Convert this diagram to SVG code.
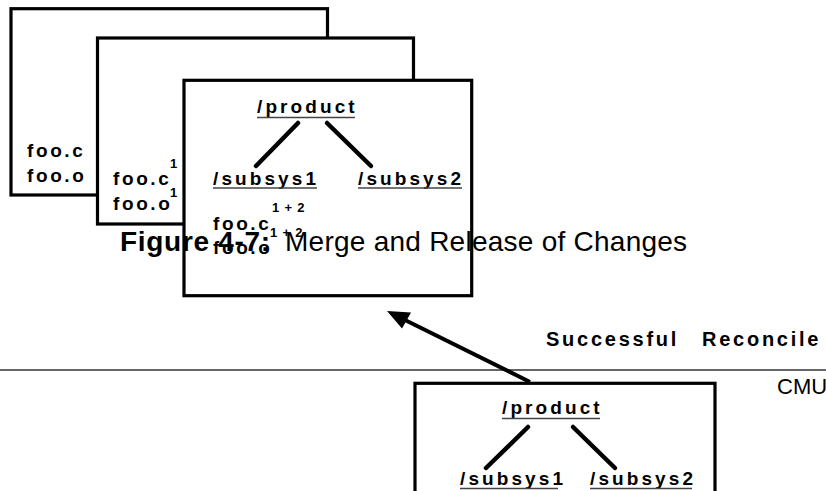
<svg xmlns="http://www.w3.org/2000/svg" width="826" height="491" viewBox="0 0 826 491">
<style>
.box{fill:#fff;stroke:#000;stroke-width:3.2}
.frame{fill:none;stroke:#000;stroke-width:3.2}
.fill{fill:#fff;stroke:none}
.lbl{font-family:"Liberation Sans",Arial,sans-serif;font-weight:bold;font-size:19px;letter-spacing:3.1px;fill:#000}
.foo{font-family:"Liberation Sans",Arial,sans-serif;font-weight:bold;font-size:19px;letter-spacing:2.6px;fill:#000}
.sup{font-family:"Liberation Sans",Arial,sans-serif;font-weight:bold;font-size:13px;fill:#000}
.ul{stroke:#444;stroke-width:1.4}
.tree{stroke:#000;stroke-width:4.5;stroke-linecap:round}
.cap{font-family:"Liberation Sans",Arial,sans-serif;font-weight:bold;font-size:20px;letter-spacing:2.75px;fill:#000}
.title{font-family:"Liberation Sans",Arial,sans-serif;font-size:28px;fill:#000}
</style>
<line x1="0" y1="370" x2="826" y2="370" stroke="#333" stroke-width="1.5"/>
<g id="ws1">
<rect class="box" x="11" y="8.7" width="316.5" height="186.3"/>
<text class="foo" x="27" y="157">foo.c</text>
<text class="foo" x="27" y="182">foo.o</text>
</g>
<g id="ws2">
<rect class="box" x="97.5" y="38" width="316" height="186"/>
<text class="foo" x="113" y="185">foo.c</text>
<text class="foo" x="113" y="210">foo.o</text>
<text class="sup" x="170" y="168">1</text>
<text class="sup" x="170" y="197">1</text>
</g>
<g id="release">
<rect class="fill" x="184" y="80.3" width="287.7" height="215.4"/>
<text class="lbl" x="257" y="113">/product</text>
<line class="ul" x1="257" y1="117.5" x2="355" y2="117.5"/>
<text class="lbl" x="213" y="185">/subsys1</text>
<line class="ul" x1="213" y1="188" x2="317" y2="188"/>
<text class="lbl" x="358" y="185">/subsys2</text>
<line class="ul" x1="358" y1="188" x2="462" y2="188"/>
<text class="foo" x="213" y="230">foo.c</text>
<text class="foo" x="213" y="254">foo.o</text>
<text class="sup" x="272" y="212" letter-spacing="0.8">1 + 2</text>
<text class="sup" x="270" y="237" letter-spacing="0.8">1 + 2</text>
<g id="caption">
<text class="title" x="120" y="251" font-weight="bold" letter-spacing="0.7">Figure 4-7:</text>
<text class="title" x="285" y="251" letter-spacing="0.25">Merge and Release of Changes</text>
</g>
<rect class="frame" x="184" y="80.3" width="287.7" height="215.4"/>
</g>
<g id="workspace">
<rect class="box" x="415" y="383.3" width="300" height="120"/>
<text class="lbl" x="502" y="414">/product</text>
<line class="ul" x1="502" y1="418.5" x2="600" y2="418.5"/>
<text class="lbl" x="460" y="485">/subsys1</text>
<line class="ul" x1="460" y1="488.5" x2="558" y2="488.5"/>
<text class="lbl" x="590" y="485">/subsys2</text>
<line class="ul" x1="590" y1="488.5" x2="692" y2="488.5"/>
</g>
<g id="connectors">
<line class="tree" x1="298" y1="123" x2="256" y2="166"/>
<line class="tree" x1="327" y1="123" x2="371" y2="166"/>
<line class="tree" x1="528" y1="427" x2="486" y2="468"/>
<line class="tree" x1="573" y1="427" x2="615" y2="468"/>
<line x1="530" y1="382" x2="405" y2="320" stroke="#000" stroke-width="4"/>
<polygon points="387,311 411,312.5 402,328.5" fill="#000"/>
</g>
<g id="labels">
<text class="cap" x="546" y="346">Successful</text>
<text class="cap" x="702" y="346">Reconcile</text>
<text x="777" y="394" font-family="'Liberation Sans',Arial,sans-serif" font-size="22" fill="#000">CMU</text>
</g>
</svg>
